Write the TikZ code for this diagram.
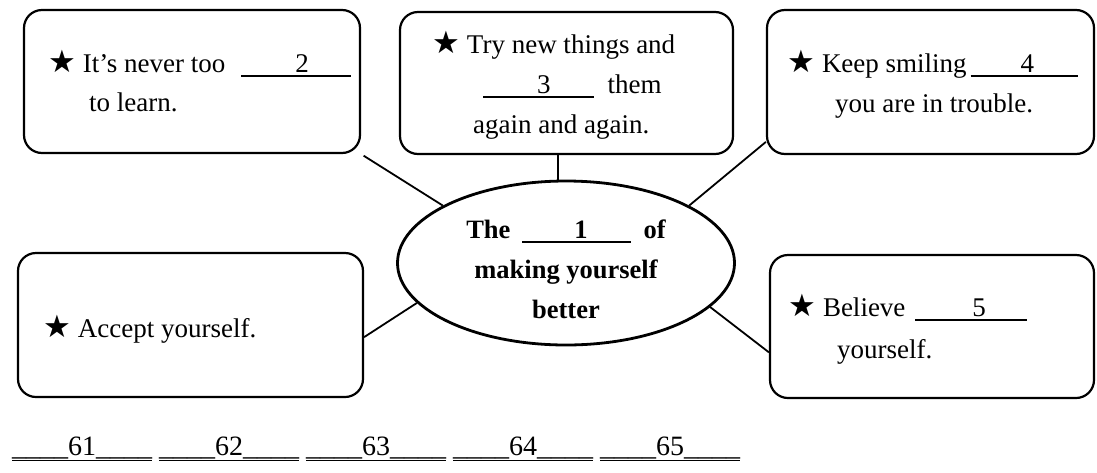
\documentclass[tikz,border=0pt]{standalone}
\usepackage{fontspec}
\setmainfont{Liberation Serif}
\newfontfamily\starfont{DejaVu Sans}
\usetikzlibrary{shapes.geometric}
\tikzset{
  card/.style={draw, fill=white, line width=2.2pt, rounded corners=18pt, inner sep=0pt},
  goalshape/.style={draw, ellipse, line width=2.8pt, inner sep=0pt, minimum width=337pt, minimum height=164pt},
  link/.style={line width=1.8pt},
  txt/.style={anchor=base west, inner sep=0pt, font=\fontsize{27}{32}\selectfont},
  btxt/.style={anchor=base, inner sep=0pt, font=\fontsize{26.5}{32}\selectfont\bfseries}
}
\newcommand{\mystar}{{\starfont\fontsize{31}{34}\selectfont ★}\hspace{7pt}}
\newcommand{\answerline}[3]{\rlap{\rule[-4.5pt]{\dimexpr#1+#3+13.5pt\relax}{1.5pt}}\hspace{#1}#2\hspace{#3}}
\begin{document}
\begin{tikzpicture}[x=1pt, y=-1pt]
  \useasboundingbox (0,0) rectangle (1097,472);
  %boxes
  \node[card, minimum width=336pt, minimum height=143pt] (box1) at (192,81.5) {};
  \node[card, minimum width=333pt, minimum height=142pt] (box2) at (566.5,83) {};
  \node[card, minimum width=327pt, minimum height=144pt] (box3) at (930.5,82) {};
  \node[card, minimum width=345pt, minimum height=144pt] (box4) at (190.5,325) {};
  \node[card, minimum width=324pt, minimum height=143pt] (box5) at (932,326.5) {};
  \node[goalshape] (goal) at (566,263) {};
  %links
  \draw[link, shorten >=3pt] (goal.155) -- (box1.south east);
  \draw[link] (box2.-97) -- (box2.-97 |- goal.north);
  \draw[link] (goal.25) -- (box3.200);
  \draw[link] (goal.195) -- (box4.-4);
  \draw[link] (goal.-17) -- (box5.189);
  %texts
  \node[txt] (t1a) at (48,72) {\mystar It's never too\hspace{16pt}\answerline{54pt}{2}{42pt}};
  \node[txt] (t1b) at (89,111) {to learn.};
  \node[txt] (t2a) at (432,53) {\mystar Try new things and};
  \node[txt] (t2b) at (483,93) {\answerline{54pt}{3}{43pt}\hspace{14pt}them};
  \node[txt] (t2c) at (473,133) {again and again.};
  \node[txt] (t3a) at (787,72) {\mystar Keep smiling\hspace{4pt}\answerline{50pt}{4}{44pt}};
  \node[txt] (t3b) at (835,112) {you are in trouble.};
  \node[txt] (t4) at (43,337) {\mystar Accept yourself.};
  \node[txt] (t5a) at (788,316) {\mystar Believe\hspace{10pt}\answerline{57pt}{5}{41pt}};
  \node[txt] (t5b) at (837,358) {yourself.};
  %ellipse
  \node[btxt] (g1) at (566,238) {The\hspace{12pt}\answerline{52pt}{1}{43pt}\hspace{13pt}of};
  \node[btxt] (g2) at (566,278) {making yourself};
  \node[btxt] (g3) at (566,318) {better};
  %answers
  \node[txt, font=\fontsize{28}{32}\selectfont] (ans) at (12,455) {\underline{\_\_\_\_61\_\_\_\_} \underline{\_\_\_\_62\_\_\_\_} \underline{\_\_\_\_63\_\_\_\_} \underline{\_\_\_\_64\_\_\_\_} \underline{\_\_\_\_65\_\_\_\_}};
\end{tikzpicture}
\end{document}
